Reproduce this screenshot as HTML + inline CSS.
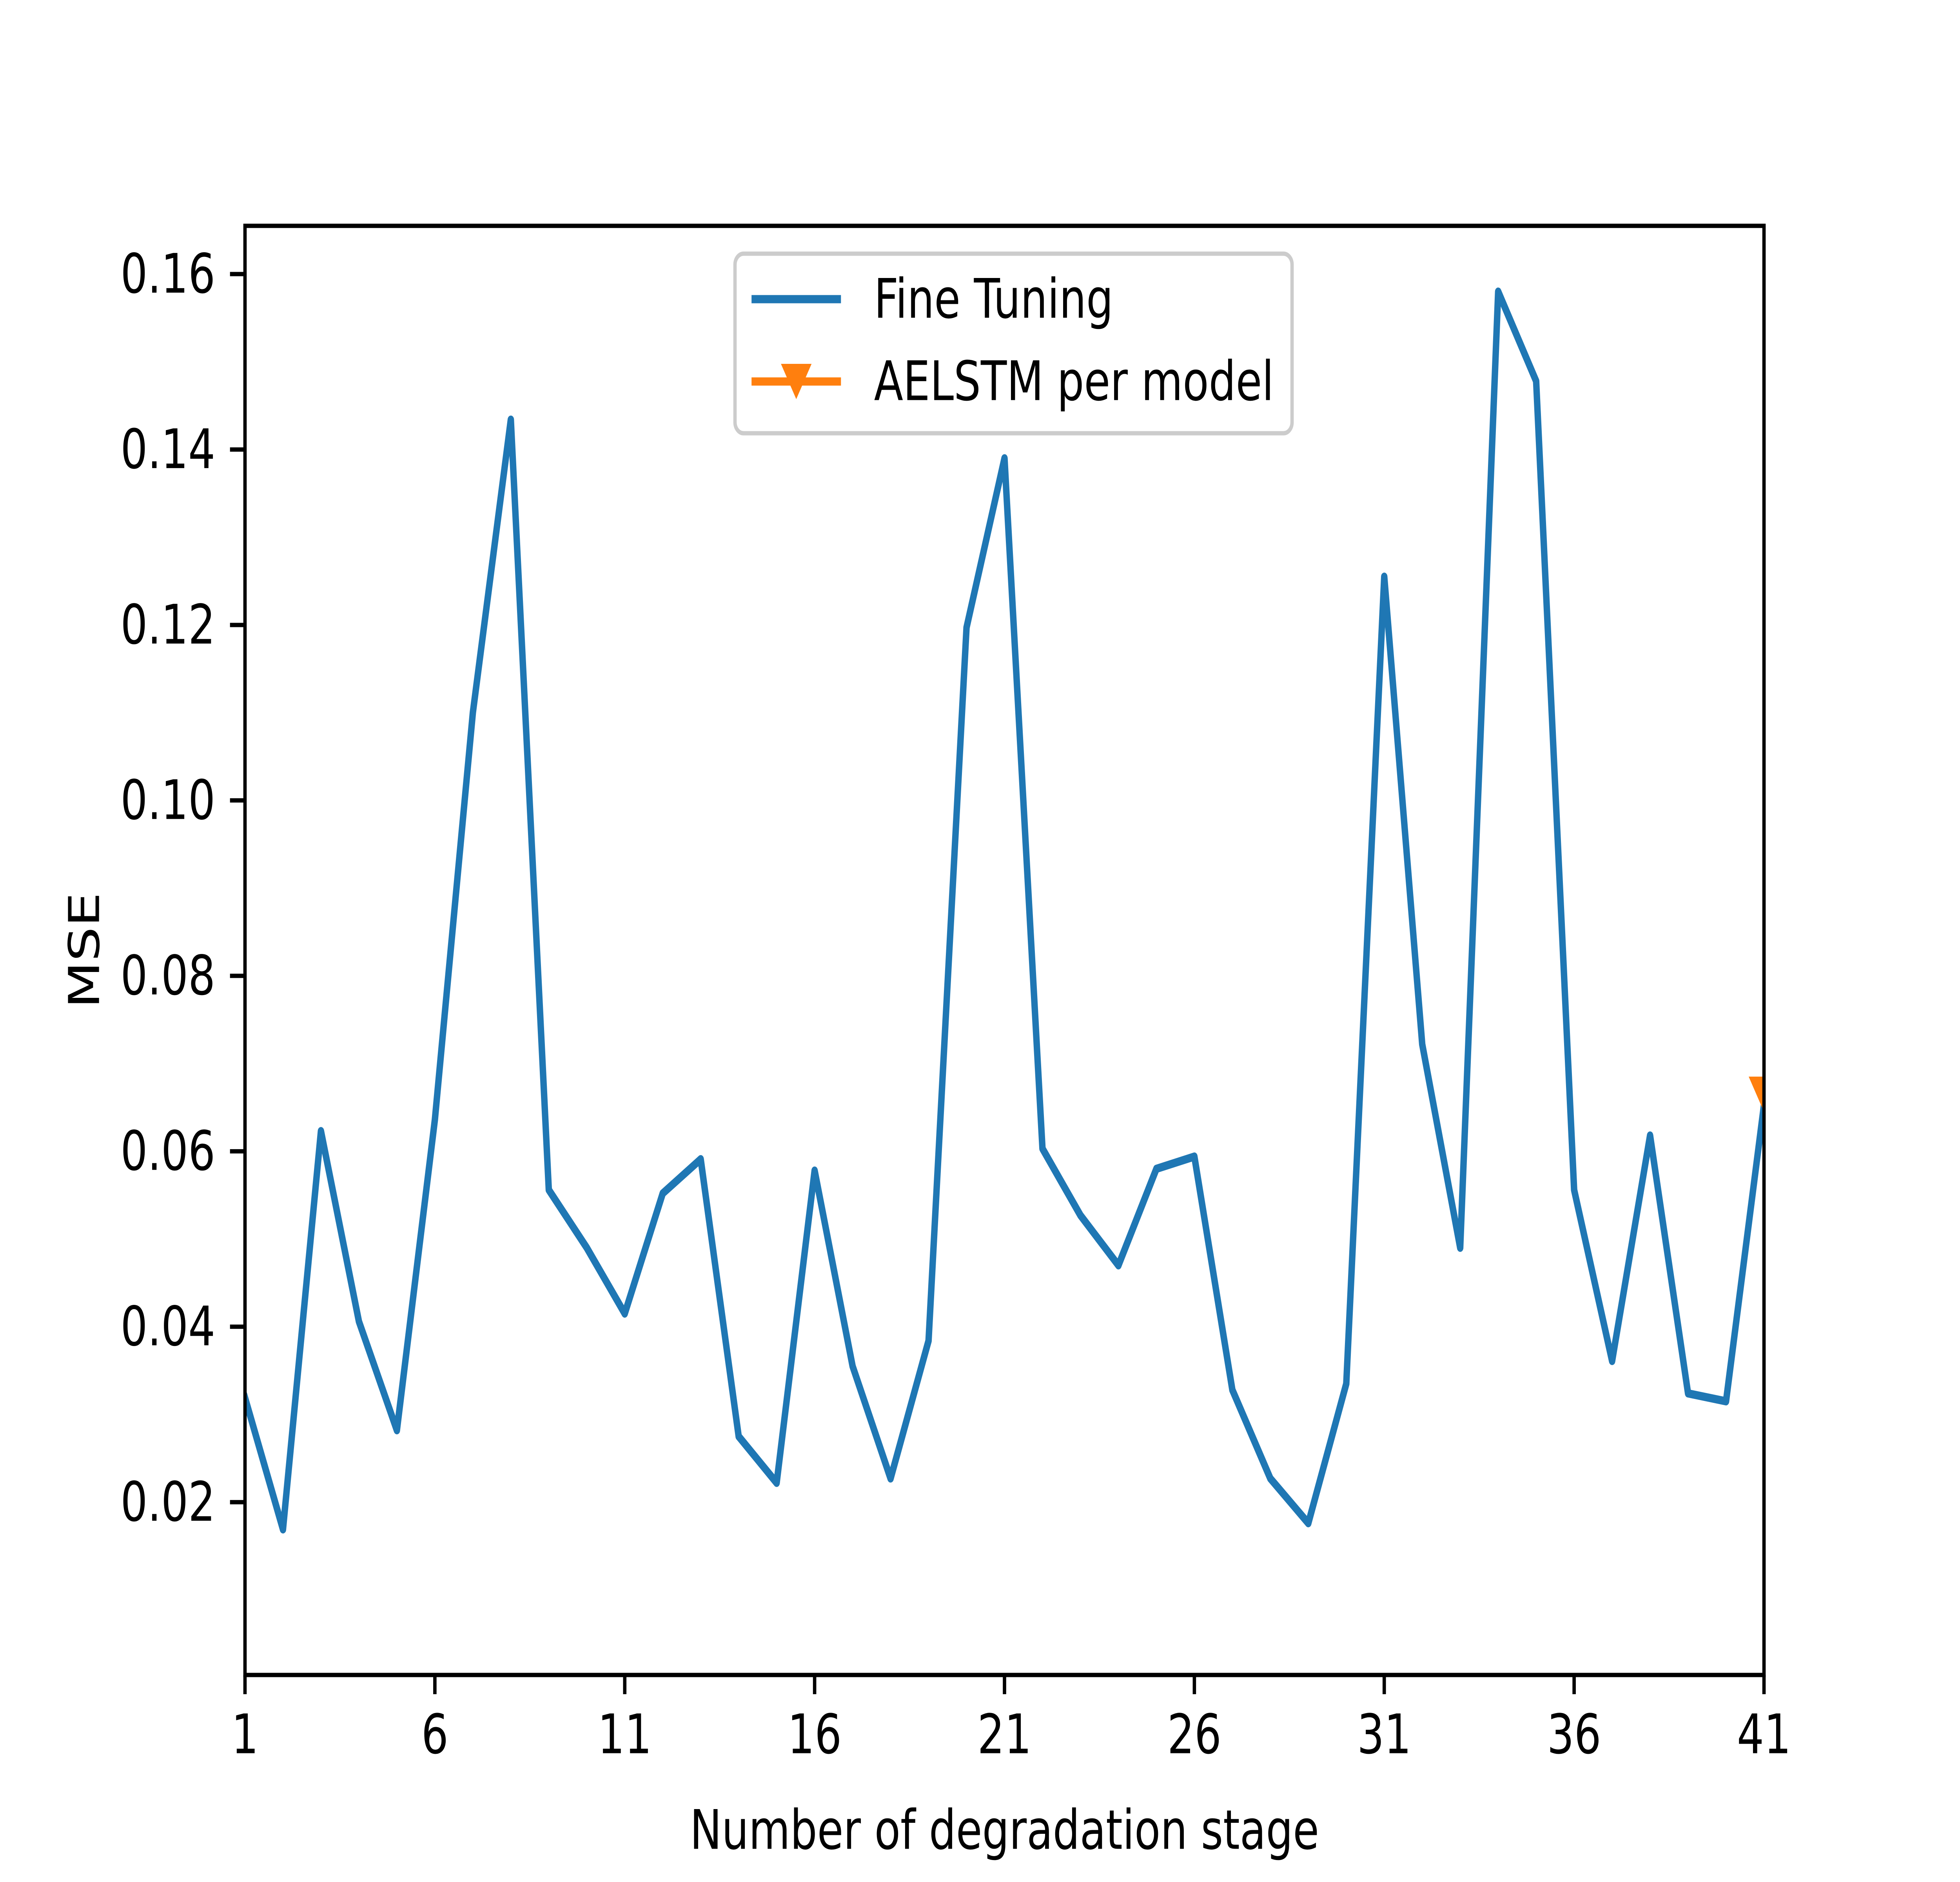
<!DOCTYPE html>
<html><head><meta charset="utf-8"><style>
html,body{margin:0;padding:0;background:#fff;width:100%;height:100%;overflow:hidden}
svg{display:block;width:100vw;height:100vh}
text{font-family:"DejaVu Sans","Liberation Sans",sans-serif;fill:#000}
</style></head><body>
<svg id="chart" viewBox="0 0 6400 4800" preserveAspectRatio="none" xmlns="http://www.w3.org/2000/svg">
<rect width="6400" height="4800" fill="#fff"/>
<defs><clipPath id="clip"><rect x="800" y="576" width="4960" height="3696"/></clipPath></defs>
<g id="plot" clip-path="url(#clip)"></g>
<g id="axes"></g>
<g>
<rect x="2400" y="647" width="1819" height="458" rx="28" fill="#fff" fill-opacity="0.8" stroke="#ccc" stroke-width="11"/>
<line x1="2454" y1="763" x2="2746" y2="763" stroke="#1f77b4" stroke-width="21"/>
<text x="2854" y="763" font-size="139" dominant-baseline="central">Fine Tuning</text>
<line x1="2454" y1="973" x2="2746" y2="973" stroke="#ff7f0e" stroke-width="21"/>
<polygon points="2550,928 2650,928 2600,1018" fill="#ff7f0e"/>
<text x="2854" y="973" font-size="139" dominant-baseline="central">AELSTM per model</text>
</g>
<text x="3280" y="4668" font-size="139" text-anchor="middle" dominant-baseline="central">Number of degradation stage</text>
<text x="276" y="2424" font-size="139" text-anchor="middle" dominant-baseline="central" transform="rotate(-90 276 2424)">MSE</text>
</svg>
<script>
const fineTuning=[0.0319,0.0169,0.0623,0.0406,0.0282,0.0636,0.110,0.1434,0.0556,0.049,0.0415,0.0552,0.0591,0.0275,0.0222,0.0578,0.0355,0.0227,0.0384,0.1197,0.139,0.0603,0.0527,0.047,0.058,0.0594,0.0328,0.0227,0.0176,0.0335,0.1255,0.0722,0.049,0.158,0.1478,0.0556,0.0361,0.0618,0.0324,0.0315,0.0653];
const aelstmX=[41];
const aelstmY=[0.0665];
const xTicks=[1,6,11,16,21,26,31,36,41];
const yTicks=[0.02,0.04,0.06,0.08,0.10,0.12,0.14,0.16];
const yTickLabels=["0.02","0.04","0.06","0.08","0.10","0.12","0.14","0.16"];
const L=800,R=5760,T=576,B=4272,xMin=1,xMax=41,yMin=0.0003,yMax=0.1655;
const NS="http://www.w3.org/2000/svg";
function sx(v){return L+(v-xMin)/(xMax-xMin)*(R-L);}
function sy(v){return B-(v-yMin)/(yMax-yMin)*(B-T);}
function mk(tag,attrs,parent){const e=document.createElementNS(NS,tag);for(const k in attrs)e.setAttribute(k,attrs[k]);parent.appendChild(e);return e;}
const plot=document.getElementById('plot'),axes=document.getElementById('axes');
const pts=fineTuning.map((v,i)=>sx(i+1).toFixed(1)+','+sy(v).toFixed(1)).join(' ');
const line=mk('polyline',{points:pts,fill:'none',stroke:'#1f77b4','stroke-width':21,'stroke-linejoin':'round','stroke-linecap':'square'},plot);


aelstmX.forEach((x,i)=>{const cx=sx(x),cy=sy(aelstmY[i]);
const m=mk('polygon',{points:`${cx-50},${cy-45} ${cx+50},${cy-45} ${cx},${cy+45}`,fill:'#ff7f0e'},plot);

});
const frame=mk('rect',{x:L,y:T,width:R-L,height:B-T,fill:'none',stroke:'#000','stroke-width':11},axes);


xTicks.forEach(t=>{const x=sx(t);
const tk=mk('line',{x1:x,y1:B,x2:x,y2:B+49,stroke:'#000','stroke-width':11},axes);


const tx=mk('text',{x:x,y:B+97,'font-size':139,'text-anchor':'middle','dominant-baseline':'hanging'},axes);
tx.textContent=String(t);

});
yTicks.forEach((t,i)=>{const y=sy(t);
const tk=mk('line',{x1:L-49,y1:y,x2:L,y2:y,stroke:'#000','stroke-width':11},axes);


const tx=mk('text',{x:L-97,y:y,'font-size':139,'text-anchor':'end','dominant-baseline':'central'},axes);
tx.textContent=yTickLabels[i];

});
</script>
</body></html>
